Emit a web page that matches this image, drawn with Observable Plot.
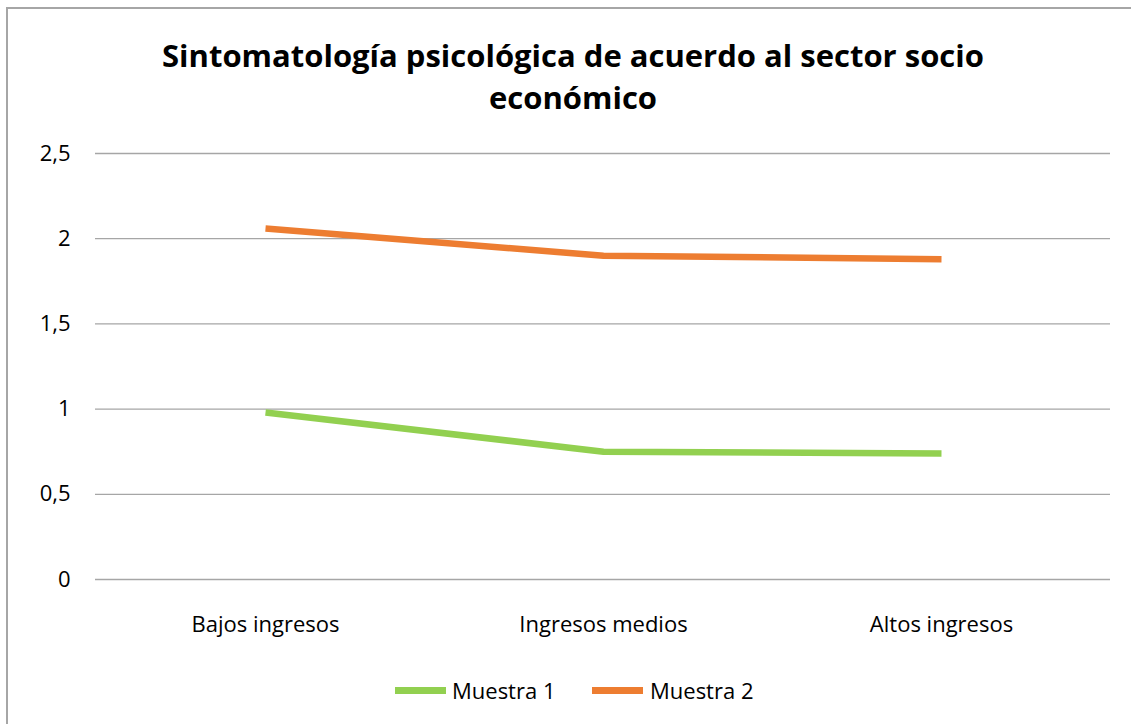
<!DOCTYPE html>
<html>
<head>
<meta charset="utf-8">
<script src="https://cdn.jsdelivr.net/npm/d3@7"></script>
<script src="https://cdn.jsdelivr.net/npm/@observablehq/plot@0.6"></script>
<style>
  body { margin: 0; background: #fff; }
  #wrap { position: relative; width: 1131px; height: 724px; overflow: hidden; background: #fff; font-family: "Open Sans", sans-serif; }
  #frame { position: absolute; left: 6px; top: 7px; width: 1140px; height: 740px; border: 2px solid #a6a6a6; box-sizing: border-box; }
  #title { position: absolute; left: 0; top: 34px; width: 1146px; text-align: center; font-family: "Open Sans", sans-serif; font-weight: 700; font-size: 31px; line-height: 42px; color: #000; letter-spacing: 0; }
  #chart { position: absolute; left: 0; top: 120px; }
  #legend { position: absolute; top: 675px; left: 0; width: 1131px; height: 30px; font-size: 22px; color: #000; }
  .sw { position: absolute; height: 7px; top: 12px; }
  .lt { position: absolute; top: 0; line-height: 30px; }
</style>
</head>
<body>
<div id="wrap">
  <div id="frame"></div>
  <div id="title">Sintomatología psicológica de acuerdo al sector socio<br>económico</div>
  <div id="chart"></div>
  <div id="legend"></div>
</div>
<script>
const categories = ["Bajos ingresos", "Ingresos medios", "Altos ingresos"];
const muestra1 = [0.98, 0.75, 0.74];
const muestra2 = [2.06, 1.90, 1.88];
const yTicks = [0, 0.5, 1, 1.5, 2, 2.5];
const seriesNames = ["Muestra 1", "Muestra 2"];
const seriesColors = ["#92D050", "#ED7D31"];

const rows = [];
categories.forEach((c, i) => {
  rows.push({cat: c, value: muestra1[i], serie: seriesNames[0]});
  rows.push({cat: c, value: muestra2[i], serie: seriesNames[1]});
});

const fmt = d => String(d).replace(".", ",");

const plot = Plot.plot({
  width: 1131,
  height: 540,
  marginTop: 33,
  marginBottom: 81,
  marginLeft: 95,
  marginRight: 21,
  style: { fontFamily: "Open Sans, sans-serif", fontSize: "22px", color: "#000", background: "transparent" },
  x: { type: "point", domain: categories, padding: 0.5, label: null },
  y: { domain: [0, 2.5], ticks: yTicks, label: null },
  color: { domain: seriesNames, range: seriesColors },
  marks: [
    Plot.ruleY(yTicks, { stroke: "#a6a6a6", strokeWidth: 1.3 }),
    Plot.axisY({ ticks: yTicks, tickFormat: fmt, tickSize: 0, tickPadding: 25, fontSize: 22, label: null }),
    Plot.axisX({ tickSize: 0, tickPadding: 37, fontSize: 22, label: null }),
    Plot.line(rows, { x: "cat", y: "value", z: "serie", stroke: "serie", strokeWidth: 6.5, strokeLinecap: "butt", strokeLinejoin: "round" })
  ]
});
document.getElementById("chart").appendChild(plot);

const legend = document.getElementById("legend");
const swX = [395, 592];
const txX = [452, 650];
seriesNames.forEach((n, i) => {
  const sw = document.createElement("div");
  sw.className = "sw";
  sw.style.left = swX[i] + "px";
  sw.style.width = "51px";
  sw.style.background = seriesColors[i];
  legend.appendChild(sw);
  const t = document.createElement("div");
  t.className = "lt";
  t.style.left = txX[i] + "px";
  t.textContent = n;
  legend.appendChild(t);
});
</script>
</body>
</html>
